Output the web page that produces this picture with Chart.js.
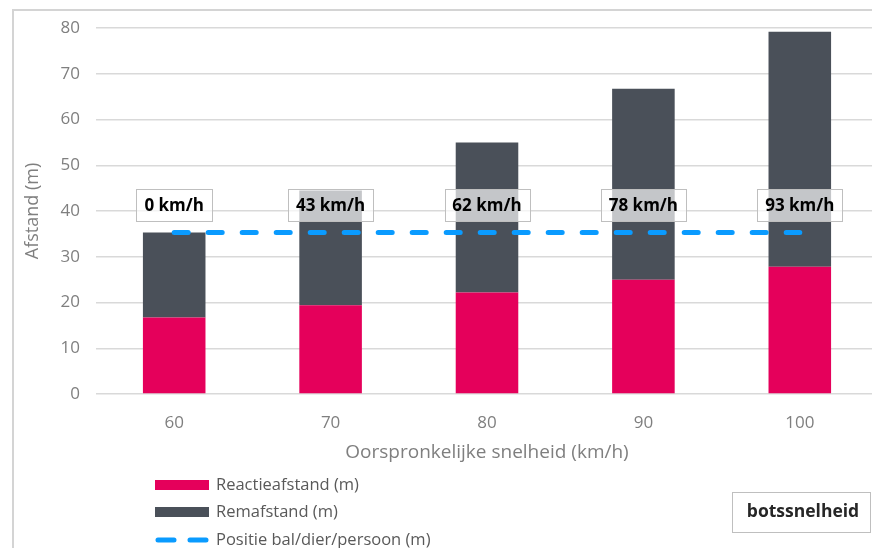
<!DOCTYPE html>
<html>
<head>
<meta charset="utf-8">
<script src="https://cdn.jsdelivr.net/npm/chart.js@4"></script>
<style>
  html, body { margin: 0; padding: 0; background: #fff; }
  #wrap { position: relative; width: 872px; height: 548px; overflow: hidden; background: #fff; }
</style>
</head>
<body>
<div id="wrap"><canvas id="c" width="882" height="548"></canvas></div>
<script>
'use strict';

// ── Data ──
const CATEGORIES   = ['60', '70', '80', '90', '100'];
const REACTIE      = [16.7, 19.4, 22.2, 25.0, 27.8];
const REM          = [18.6, 25.1, 32.8, 41.7, 51.4];
const POSITIE      = [35.3, 35.3, 35.3, 35.3, 35.3];
const BOTS_LABELS  = ['0 km/h', '43 km/h', '62 km/h', '78 km/h', '93 km/h'];
const Y_MIN = 0, Y_MAX = 80, Y_STEP = 10;

const FONT = '"Open Sans", "Noto Sans", sans-serif';
const GREY_TEXT = '#7F7F7F';
const LABEL_Y = 41.3;   // height (in m) of the botssnelheid boxes

// ── Decorations: frame, value boxes, legend ──
const decor = {
  id: 'decor',
  beforeDraw(chart) {
    const ctx = chart.ctx;
    ctx.save();
    ctx.strokeStyle = '#D4D4D4';
    ctx.lineWidth = 2;
    ctx.beginPath();
    ctx.moveTo(13, 560);
    ctx.lineTo(13, 10);
    ctx.lineTo(900, 10);
    ctx.stroke();
    ctx.restore();
  },
  afterDatasetsDraw(chart) {
    const ctx = chart.ctx;
    const xs = chart.scales.x, ys = chart.scales.y;
    ctx.save();
    ctx.font = 'bold 17px ' + FONT;
    ctx.textAlign = 'center';
    ctx.textBaseline = 'middle';
    BOTS_LABELS.forEach((txt, i) => {
      const cx = xs.getPixelForValue(i);
      const cy = ys.getPixelForValue(LABEL_Y);
      const w = Math.round(ctx.measureText(txt).width) + 16;
      const h = 32;
      const x0 = Math.round(cx - w / 2) + 0.5, y0 = Math.round(cy - h / 2) + 0.5;
      ctx.fillStyle = 'rgba(255,255,255,0.68)';
      ctx.fillRect(x0, y0, w, h);
      ctx.strokeStyle = '#BFBFBF';
      ctx.lineWidth = 1;
      ctx.strokeRect(x0, y0, w, h);
      ctx.fillStyle = '#000';
      ctx.fillText(txt, cx, cy + 1);
    });
    ctx.restore();
  },
  afterDraw(chart) {
    const ctx = chart.ctx;
    const ds = chart.data.datasets;
    const rows = [485, 512, 540];
    ctx.save();
    ctx.font = '16.5px ' + FONT;
    ctx.textBaseline = 'middle';
    ctx.textAlign = 'left';
    // legend order: Reactie, Rem, Positie
    [ds[1], ds[2], ds[0]].forEach((d, i) => {
      const y = rows[i];
      if (d.type === 'line') {
        ctx.strokeStyle = d.borderColor;
        ctx.lineWidth = 5;
        ctx.lineCap = 'round';
        ctx.beginPath();
        ctx.moveTo(158, y); ctx.lineTo(174, y);
        ctx.moveTo(190, y); ctx.lineTo(206, y);
        ctx.stroke();
      } else {
        ctx.fillStyle = d.backgroundColor;
        ctx.fillRect(155, y - 5, 54, 10);
      }
      ctx.fillStyle = '#595959';
      ctx.fillText(d.label, 216, y);
    });
    // botssnelheid box
    ctx.strokeStyle = '#BFBFBF';
    ctx.lineWidth = 1;
    ctx.fillStyle = '#fff';
    ctx.fillRect(732.5, 492.5, 138, 40);
    ctx.strokeRect(732.5, 492.5, 138, 40);
    ctx.font = 'bold 17.5px ' + FONT;
    ctx.textAlign = 'center';
    ctx.fillStyle = '#262626';
    ctx.fillText('botssnelheid', 803, 512);
    ctx.restore();
  }
};

new Chart(document.getElementById('c'), {
  data: {
    labels: CATEGORIES,
    datasets: [
      {
        type: 'line',
        label: 'Positie bal/dier/persoon (m)',
        data: POSITIE,
        borderColor: '#0A9BFF',
        borderWidth: 5,
        borderDash: [14, 20],
        borderCapStyle: 'round',
        pointRadius: 0,
        fill: false,
        stack: 'pos',
        order: 0,
      },
      {
        type: 'bar',
        label: 'Reactieafstand (m)',
        data: REACTIE,
        backgroundColor: '#E5005B',
        stack: 'afstand',
        categoryPercentage: 0.8,
        barPercentage: 0.5,
        order: 1,
      },
      {
        type: 'bar',
        label: 'Remafstand (m)',
        data: REM,
        backgroundColor: '#4A5059',
        stack: 'afstand',
        categoryPercentage: 0.8,
        barPercentage: 0.5,
        order: 1,
      },
    ],
  },
  options: {
    responsive: false,
    animation: false,
    devicePixelRatio: 1,
    layout: { padding: { left: 14, top: 28, right: 4, bottom: 84 } },
    plugins: { legend: { display: false }, tooltip: { enabled: false } },
    scales: {
      x: {
        stacked: true,
        grid: { display: false },
        border: { display: false },
        ticks: { color: GREY_TEXT, font: { family: FONT, size: 17 }, padding: 11 },
        title: {
          display: true,
          text: 'Oorspronkelijke snelheid (km/h)',
          color: GREY_TEXT,
          font: { family: FONT, size: 19 },
          padding: { top: 4, bottom: 0 },
        },
        afterFit(scale) { scale.height = 70; },
      },
      y: {
        stacked: true,
        min: Y_MIN,
        max: Y_MAX,
        grid: { color: '#D9D9D9', lineWidth: 1.5, drawTicks: false },
        border: { display: false },
        ticks: { stepSize: Y_STEP, color: GREY_TEXT, font: { family: FONT, size: 17 }, padding: 16 },
        title: {
          display: true,
          text: 'Afstand (m)',
          color: GREY_TEXT,
          font: { family: FONT, size: 18 },
          padding: { top: 8, bottom: 0 },
        },
        afterFit(scale) { scale.width = 82; },
      },
    },
  },
  plugins: [decor],
});
</script>
</body>
</html>
